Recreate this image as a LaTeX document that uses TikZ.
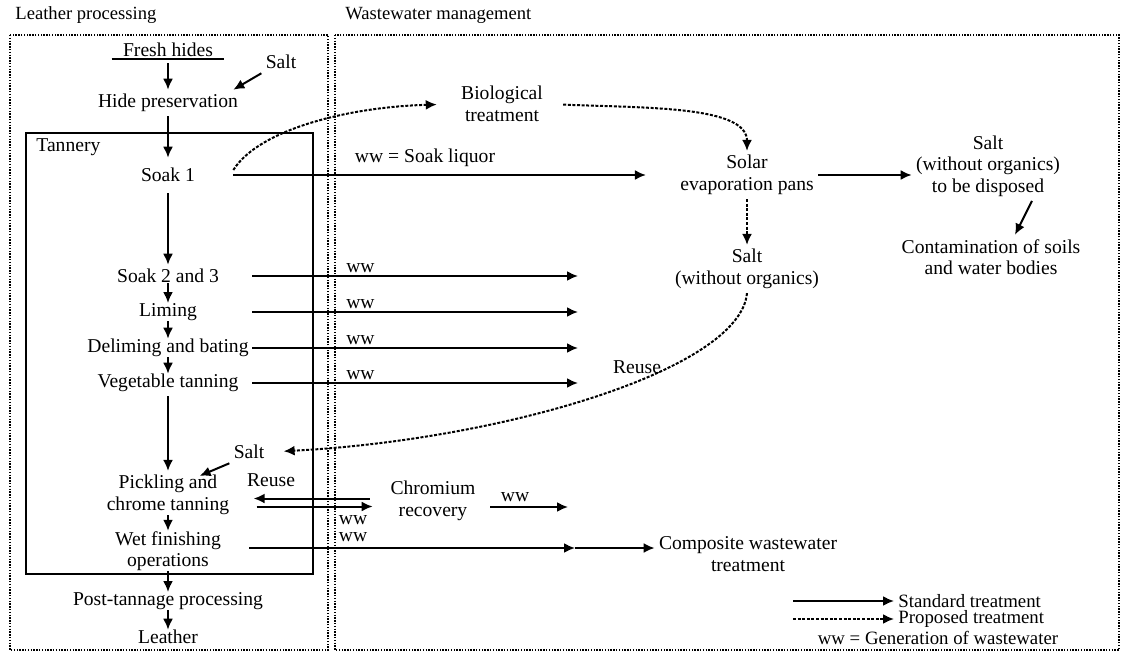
\documentclass[tikz,border=0pt]{standalone}
\usepackage{fontspec}
\setmainfont{Liberation Serif}
\usetikzlibrary{arrows.meta,calc}

\begin{document}
\begin{tikzpicture}[x=0.5pt,y=-0.5pt,
    every node/.style={align=center,inner sep=2pt,font=\fontsize{9.8}{10.8}\selectfont},
    title/.style={anchor=west,font=\fontsize{9.3}{11}\selectfont},
    legend/.style={inner ysep=0pt,font=\fontsize{9.4}{10}\selectfont},
    flow/.style={line width=1pt,-{Latex[length=5.5pt,width=5pt]}},
    prop/.style={flow,dash pattern=on 1.5pt off 0.8pt},
    tight/.style={shorten <=-2pt,shorten >=-2pt},
    frame/.style={line width=1.4pt,dash pattern=on 0.7pt off 0.7pt}]
  \useasboundingbox (0,0) rectangle (1122,658);
  \node[title] (lp) at (11,15) {Leather processing};
  \node[title] (wm) at (341,15) {Wastewater management};
  \draw[frame] (10,35) rectangle (328,650);
  \draw[frame] (335,35) rectangle (1119,650);
  \draw[line width=1pt] (26,133) rectangle (313,574);
  \node[anchor=west] (tannery) at (32,147) {Tannery};

  \node[inner ysep=1pt,inner xsep=5.5pt] (fresh) at (168,50) {Fresh hides};
  \draw[line width=0.9pt] (fresh.south west) -- (fresh.south east);
  \node (saltA) at (281,62) {Salt};
  \node (hide) at (168,103) {Hide preservation};
  \node (soakA) at (168,175) {Soak 1};
  \node (soakB) at (168,276) {Soak 2 and 3};
  \node (liming) at (168,312) {Liming};
  \node (delim) at (168,348) {Deliming and bating};
  \node (veg) at (168,383) {Vegetable tanning};
  \node (saltB) at (249,452) {Salt};
  \node (pickle) at (168,495) {Pickling and\\chrome tanning};
  \node (wetfin) at (168,551) {Wet finishing\\operations};
  \node (post) at (168,601) {Post-tannage processing};
  \node (leather) at (168,637) {Leather};

  \draw[flow,shorten <=2pt] (fresh) -- (hide);
  \draw[flow] (saltA.south west) -- ([xshift=-4.5pt]hide.north east);
  \draw[flow,shorten >=3pt] (hide) -- (soakA);
  \draw[flow,shorten <=3.5pt] (soakA) -- (soakB);
  \draw[flow,tight] (soakB) -- (liming);
  \draw[flow,tight] (liming) -- (delim);
  \draw[flow,tight] (delim) -- (veg);
  \draw[flow] (veg) -- (pickle);
  \draw[flow,tight] (pickle) -- (wetfin);
  \draw[flow,tight] (wetfin) -- (post);
  \draw[flow,tight] (post) -- (leather);
  \draw[flow] (saltB.south west) -- ([xshift=-17pt,yshift=-2.5pt]pickle.north east);

  \coordinate (wwS) at (252,0);
  \coordinate (wwE) at (578,0);
  \foreach \n in {soakB,liming,delim,veg}
    \draw[flow] (\n -| wwS) -- (\n -| wwE) node[pos=0.28,anchor=south west,inner sep=1pt] {ww};

  \node (bio) at (502,104) {Biological\\treatment};
  \node (solar) at (747,175) {Solar\\evaporation pans};
  \node (saltC) at (988,166) {Salt\\(without organics)\\to be disposed};
  \node (contam) at (991,257) {Contamination of soils\\and water bodies};
  \node (saltD) at (747,269) {Salt\\(without organics)};
  \node (reuseB) at (637,367) {Reuse};
  \node (soakliq) at (425,158) {ww = Soak liquor};

  \draw[flow,shorten <=17pt,shorten >=15pt] (soakA.east) -- (soakA.east -| solar.west);
  \draw[prop,shorten >=10pt] ([xshift=17pt,yshift=2.5pt]soakA.east) .. controls +(25,-40) and +(-110,3) .. (bio.west);
  \draw[prop,shorten <=8pt] (bio.east) .. controls +(100,4) and +(0,-45) .. (solar.north);
  \draw[flow] (solar.east) -- (solar.east -| saltC.west);
  \draw[flow] ([xshift=22pt]saltC.south) -- ([xshift=12pt]contam.north);
  \draw[prop] (solar) -- (saltD);
  \draw[prop,shorten >=7.5pt] (saltD.south) .. controls +(-7,77) and +(232,-12) .. (saltB.east);

  \node (reuseA) at (271,480) {Reuse};
  \node (chrom) at (433,501) {Chromium\\recovery};
  \draw[flow,shorten <=8.25pt,shorten >=10pt] ($(pickle.east -| chrom.west)+(0,3.5)$) -- ($(pickle.east)+(0,3.5)$);
  \draw[flow,shorten <=11.5pt,shorten >=6.75pt] ($(pickle.east)+(0,11.5)$) -- ($(pickle.east -| chrom.west)+(0,11.5)$);
  \node (wwC) at (353,520) {ww};
  \node (wwD) at (353,537) {ww};
  \coordinate (chromOut) at (568,507);
  \draw[flow,shorten <=5.25pt] ($(chrom.east)+(0,6)$) -- (chromOut) node[pos=0.4,above=1pt,inner sep=1pt] {ww};

  \node (composite) at (748,554) {Composite wastewater\\treatment};
  \coordinate (wetOut) at (575,548);
  \draw[flow,shorten <=12pt] ($(wetfin.east)+(0,-3)$) -- (wetOut);
  \draw[flow] (wetOut) -- (wetOut -| composite.west);

  \coordinate (legA) at (793,601);
  \coordinate (legB) at (793,619);
  \node[legend,anchor=west] (std) at (894,601) {Standard treatment};
  \node[legend,anchor=west] (prp) at (894,619) {Proposed treatment};
  \node[legend] (gen) at (938,638) {ww = Generation of wastewater};
  \draw[flow] (legA) -- (std.west);
  \draw[prop] (legB) -- (prp.west);
\end{tikzpicture}
\end{document}
